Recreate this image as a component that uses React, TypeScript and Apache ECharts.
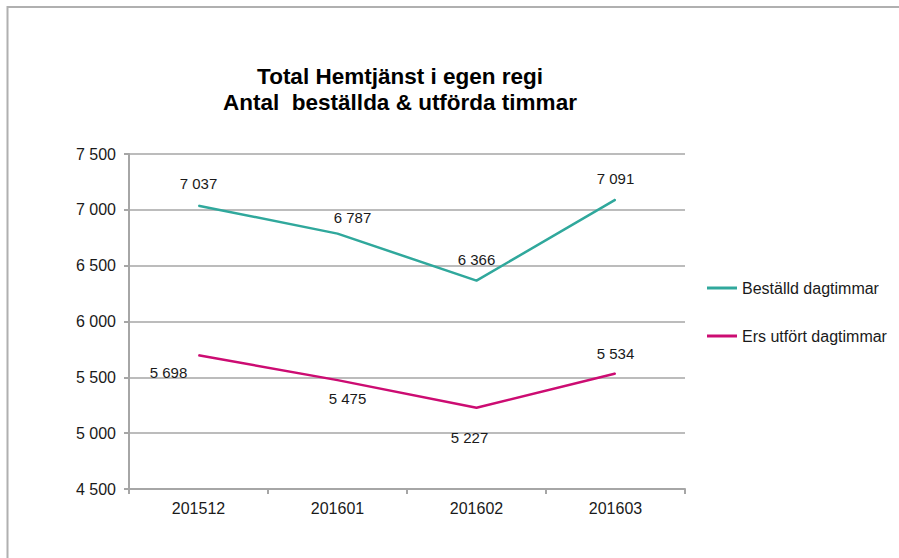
import React, { useEffect, useRef } from "react";
import * as echarts from "echarts";

const categories = ["201512", "201601", "201602", "201603"];
const bestalld = [7037, 6787, 6366, 7091];
const utfort = [5698, 5475, 5227, 5534];
const seriesNames = ["Beställd dagtimmar", "Ers utfört dagtimmar"];
const titleLines = ["Total Hemtjänst i egen regi", "Antal  beställda & utförda timmar"];
const yMin = 4500;
const yMax = 7500;
const yStep = 500;

// label placement (style), offsets from the point in px
const bestalldLabelOffsets = [[0, -22], [15, -16], [0, -21], [0, -21]];
const utfortLabelOffsets = [[-30, 17], [10, 18], [-7, 30], [0, -20]];

const TEAL = "#30a89c";
const MAGENTA = "#cc0c72";
const FONT = "'Liberation Sans', Arial, sans-serif";

const fmt = (v: number) => String(v).replace(/\B(?=(\d{3})+(?!\d))/g, " ");

function buildData(values: number[], offsets: number[][]) {
  return values.map((v, i) => ({
    value: v,
    label: { offset: offsets[i] },
  }));
}

export default function App() {
  const ref = useRef<HTMLDivElement>(null);
  useEffect(() => {
    document.body.style.margin = "0";
    const chart = echarts.init(ref.current!, null, { renderer: "svg" });
    const labelCommon = {
      show: true,
      position: "inside",
      color: "#1a1a1a",
      fontSize: 15,
      fontFamily: FONT,
      formatter: (p: any) => fmt(p.value),
    };
    chart.setOption({
      animation: false,
      backgroundColor: "#ffffff",
      textStyle: { fontFamily: FONT },
      title: {
        text: titleLines.join("\n"),
        left: 400,
        top: 63,
        padding: 0,
        textAlign: "center",
        textStyle: {
          fontSize: 22.5,
          fontWeight: "bold",
          color: "#000",
          lineHeight: 26,
          fontFamily: FONT,
        },
      },
      graphic: [
        {
          type: "rect",
          shape: { x: 7.5, y: 7, width: 1000, height: 1000 },
          style: { fill: "none", stroke: "#b0b0b0", lineWidth: 2 },
          silent: true,
        },
      ],
      legend: {
        orient: "vertical",
        left: 707,
        top: 280,
        padding: 0,
        itemGap: 32,
        itemWidth: 30,
        itemHeight: 3,
        icon: "rect",
        textStyle: { fontSize: 16, color: "#1a1a1a", fontFamily: FONT },
        data: [
          { name: seriesNames[0], itemStyle: { color: TEAL } },
          { name: seriesNames[1], itemStyle: { color: MAGENTA } },
        ],
      },
      grid: { left: 129, right: 214, top: 154, bottom: 69, containLabel: false },
      xAxis: {
        type: "category",
        data: categories,
        boundaryGap: true,
        axisLine: { lineStyle: { color: "#a6a6a6", width: 2 } },
        axisTick: { show: true, length: 5, lineStyle: { color: "#a6a6a6", width: 2 } },
        axisLabel: { fontSize: 16, color: "#1a1a1a", margin: 11, fontFamily: FONT },
      },
      yAxis: {
        type: "value",
        min: yMin,
        max: yMax,
        interval: yStep,
        axisLine: { show: true, lineStyle: { color: "#a6a6a6", width: 2 } },
        axisTick: { show: true, length: 5, lineStyle: { color: "#a6a6a6", width: 2 } },
        splitLine: { show: true, lineStyle: { color: "#a6a6a6", width: 1.5 } },
        axisLabel: {
          fontSize: 16,
          color: "#1a1a1a",
          margin: 13,
          fontFamily: FONT,
          formatter: (v: number) => fmt(v),
        },
      },
      series: [
        {
          name: seriesNames[0],
          type: "line",
          data: buildData(bestalld, bestalldLabelOffsets),
          symbol: "circle",
          symbolSize: 1,
          showSymbol: true,
          itemStyle: { color: TEAL },
          lineStyle: { color: TEAL, width: 2.5 },
          label: labelCommon,
        },
        {
          name: seriesNames[1],
          type: "line",
          data: buildData(utfort, utfortLabelOffsets),
          symbol: "circle",
          symbolSize: 1,
          showSymbol: true,
          itemStyle: { color: MAGENTA },
          lineStyle: { color: MAGENTA, width: 2.5 },
          label: labelCommon,
        },
      ],
    });
    return () => chart.dispose();
  }, []);
  return <div ref={ref} style={{ width: 899, height: 558 }} />;
}
